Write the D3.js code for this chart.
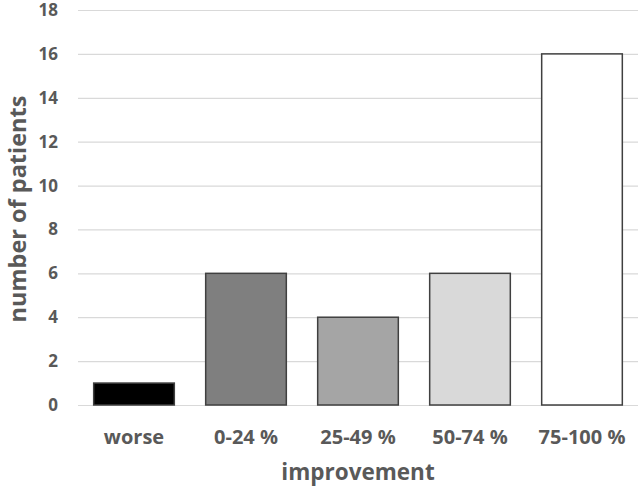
<!DOCTYPE html>
<html>
<head>
<meta charset="utf-8">
<script src="https://cdn.jsdelivr.net/npm/d3@7"></script>
<style>
  body { margin: 0; background: #fff; }
  text { font-family: "Open Sans", "DejaVu Sans", sans-serif; font-weight: bold; fill: #595959; }
</style>
</head>
<body>
<div id="chart"></div>
<script>
// data
const categories = ["worse", "0-24 %", "25-49 %", "50-74 %", "75-100 %"];
const patients = [1, 6, 4, 6, 16];
const barColors = ["#000000", "#7f7f7f", "#a5a5a5", "#d9d9d9", "#ffffff"];
const yTicks = [0, 2, 4, 6, 8, 10, 12, 14, 16, 18];

const W = 641, H = 489;
const margin = { top: 10, right: 3, bottom: 84, left: 78 };
const width = W - margin.left - margin.right;
const height = H - margin.top - margin.bottom;

const svg = d3.select("#chart").append("svg")
    .attr("width", W)
    .attr("height", H);

const g = svg.append("g")
    .attr("transform", "translate(" + margin.left + "," + margin.top + ")");

const x = d3.scaleBand()
    .domain(categories)
    .range([0, width])
    .paddingInner(0.28)
    .paddingOuter(0.14);

const y = d3.scaleLinear()
    .domain([0, 18])
    .range([height, 0]);

// gridlines
g.selectAll(".grid")
    .data(yTicks)
    .enter()
    .append("line")
    .attr("x1", 0)
    .attr("x2", width)
    .attr("y1", d => y(d) + 0.5)
    .attr("y2", d => y(d) + 0.5)
    .attr("stroke", "#d9d9d9")
    .attr("stroke-width", 1.2);

// y tick labels
const yAxis = g.append("g")
    .call(d3.axisLeft(y).tickValues(yTicks).tickSize(0).tickPadding(20));
yAxis.select(".domain").remove();
yAxis.selectAll("text")
    .attr("fill", "#595959")
    .style("font-size", "17px");

// bars
g.selectAll(".bar")
    .data(patients)
    .enter()
    .append("rect")
    .attr("x", (d, i) => x(categories[i]))
    .attr("y", d => y(d))
    .attr("width", x.bandwidth())
    .attr("height", d => height - y(d))
    .attr("fill", (d, i) => barColors[i])
    .attr("stroke", "#404040")
    .attr("stroke-width", 1.5);

// x labels
const xAxis = g.append("g")
    .attr("transform", "translate(0," + height + ")")
    .call(d3.axisBottom(x).tickSize(0).tickPadding(25));
xAxis.select(".domain").remove();
xAxis.selectAll("text")
    .attr("fill", "#595959")
    .style("font-size", "20px");

// axis titles
svg.append("text")
    .attr("x", 358)
    .attr("y", 480)
    .attr("text-anchor", "middle")
    .style("font-size", "22.5px")
    .text("improvement");

svg.append("text")
    .attr("transform", "translate(26," + 209 + ") rotate(-90)")
    .attr("text-anchor", "middle")
    .style("font-size", "23.5px")
    .text("number of patients");
</script>
</body>
</html>
